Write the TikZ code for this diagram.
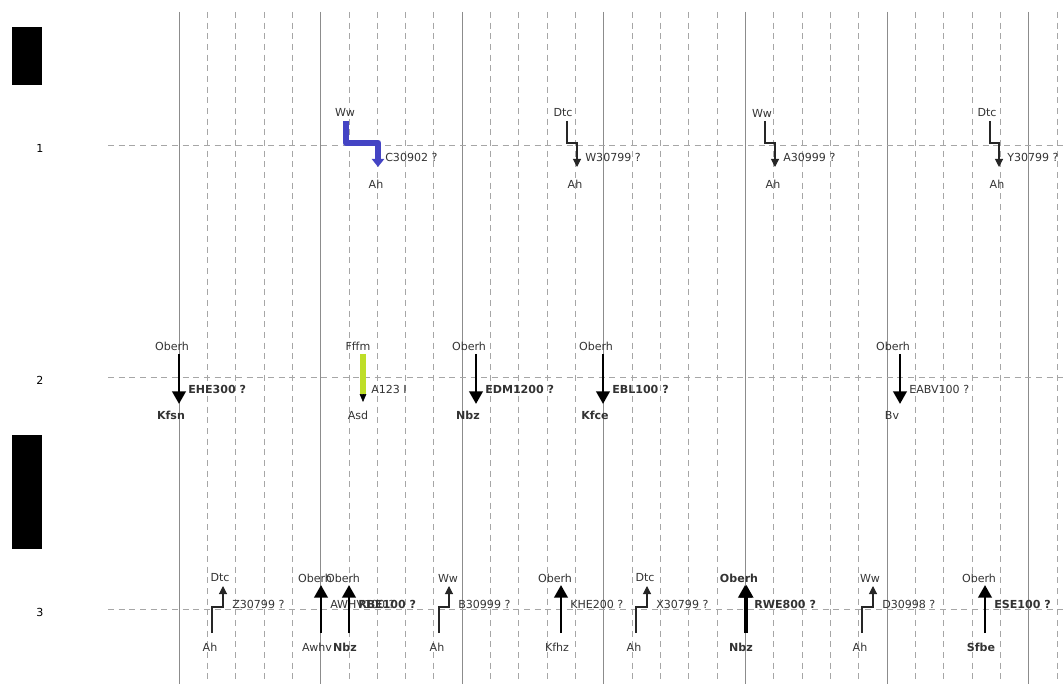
\documentclass[tikz,border=0pt]{standalone}
\usepackage{fontspec}
\setmainfont{DejaVu Sans}
\usetikzlibrary{arrows.meta}
\definecolor{runblue}{RGB}{68,68,196}
\definecolor{runlime}{RGB}{190,222,40}
\begin{document}
\begin{tikzpicture}[x=0.75pt,y=-0.75pt,>={Triangle[width=10pt,length=9.5pt]},
  font=\fontsize{8.3}{9}\selectfont,
  lbl/.style={text=black!80,inner sep=0pt},
  rl/.style={lbl,anchor=west},
  dup/.style={font=\fontsize{8.3}{9}\selectfont\bfseries},
  grd/.style={black!45,line width=0.7pt},
  sub/.style={black!35,line width=0.6pt,dash pattern=on 4.5pt off 3.5pt},
  run/.style={black,line width=2.2pt,->},
  hop/.style={black!85,line width=0.8pt,-{Triangle[width=6pt,length=6pt]}}]
\useasboundingbox (0,0) rectangle (1064,684);
% grid
\foreach \i in {0,...,31}{\draw[sub] ({179+28.32*\i},12) -- ({179+28.32*\i},684);}
\foreach \i in {0,...,6}{\draw[grd] ({179+141.6*\i},12) -- ({179+141.6*\i},684);}
\foreach \y/\n in {145/1,377/2,609/3}{\draw[sub] (108,\y) -- (1064,\y); \node[text=black,inner sep=0pt] (row\n) at (40,\y+3) {\n};}
\fill[black] (12,27) rectangle (42,85);
\fill[black] (12,435) rectangle (42,549);
% line 1
\node[lbl] (ww1) at (345,112) {Ww}; \coordinate (hs1) at (346,121); \coordinate (he1) at (378,167);
\draw[runblue,line width=5pt,line join=round,-{Triangle[width=9pt,length=6pt]}] (hs1) -- (hs1 |- 0,143) -- (he1 |- 0,143) -- (he1);
\node[rl] (c1) at (385,157) {C30902 ?}; \node[lbl] (ah1) at (376,184) {Ah};
\foreach \n/\t/\a/\b/\tx/\lab in {2/Dtc/567/577/563/W30799,3/Ww/765/775/762/A30999,4/Dtc/990/999/987/Y30799}{
  \node[lbl] (t\n) at (\tx,113) {\t}; \node[rl] (c\n) at (\b+8,157) {\lab\ ?}; \node[lbl] (ah\n) at (\b-2,184) {Ah};
  \coordinate (hs\n) at (\a,121); \coordinate (he\n) at (\b,167);
  \draw[hop] (hs\n) -- (hs\n |- 0,143) -- (he\n |- 0,143) -- (he\n);}
% line 2
\foreach \n/\x/\lo/\lab/\st in {1/179/Kfsn/EHE300/dup,3/476/Nbz/EDM1200/dup,4/603/Kfce/EBL100/dup,5/900/Bv/EABV100/lbl}{
  \node[lbl] (o\n) at (\x-7,346) {Oberh}; \coordinate (os\n) at (\x,354); \coordinate (oe\n) at (\x,404);
  \draw[run] (os\n) -- (oe\n);
  \node[rl,\st] (lb\n) at (\x+9,389) {\lab\ ?}; \node[lbl,\st] (k\n) at (\x-8,415) {\lo};}
\node[lbl] (f2) at (358,346) {Fffm}; \coordinate (fs2) at (363,354); \coordinate (fm2) at (363,394); \coordinate (fe2) at (363,402);
\draw[runlime,line width=5pt] (fs2) -- (fm2); \draw[black,-{Triangle[width=5pt,length=6pt]}] (fm2) -- (fe2);
\node[rl] (lb2) at (371,389) {A123 I}; \node[lbl] (k2) at (358,415) {Asd};
% line 3
\foreach \n/\x/\lo/\lab/\st/\sv in {1/321/Awhv/AWHV100/lbl/lbl,2/349/Nbz/RBE100/dup/lbl,3/561/Kfhz/KHE200/lbl/lbl,4/745/Nbz/RWE800/dup/dup,5/985/Sfbe/ESE100/dup/lbl}{
  \node[lbl,\sv] (u\n) at (\x-6,578) {Oberh}; \coordinate (us\n) at (\x,633); \coordinate (ue\n) at (\x,585);
  \draw[run] (us\n) -- (ue\n);
  \node[rl,\st] (g\n) at (\x+9,604) {\lab\ ?}; \node[lbl,\st] (m\n) at (\x-4,647) {\lo};}
\coordinate (us4b) at (746.5,633); \coordinate (ue4b) at (746.5,585); \draw[run] (us4b) -- (ue4b);
\foreach \n/\t/\a/\b/\tx/\lab in {6/Dtc/212/223/220/Z30799,7/Ww/439/449/448/B30999,8/Dtc/636/647/645/X30799,9/Ww/862/873/870/D30998}{
  \node[lbl] (t\n) at (\tx,578) {\t}; \node[rl] (g\n) at (\b+9,604) {\lab\ ?}; \node[lbl] (ah\n) at (\a-2,647) {Ah};
  \coordinate (hs\n) at (\a,633); \coordinate (he\n) at (\b,586);
  \draw[hop] (hs\n) -- (hs\n |- 0,607) -- (he\n |- 0,607) -- (he\n);}
\end{tikzpicture}
\end{document}
